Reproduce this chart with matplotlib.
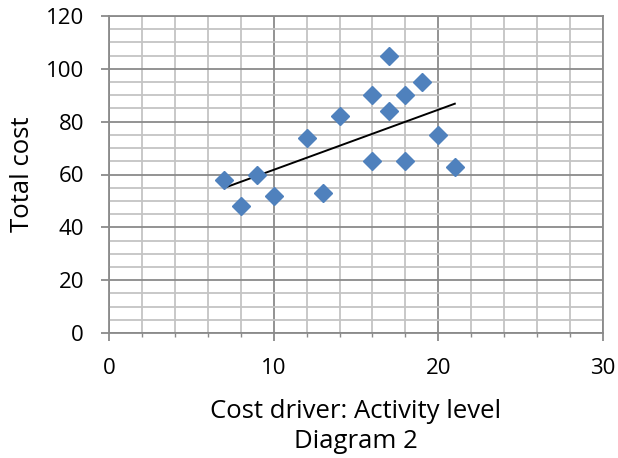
import numpy as np
import matplotlib.pyplot as plt
from matplotlib.ticker import MultipleLocator

# activity level vs total cost
activity = [7, 8, 9, 10, 12, 13, 14, 16, 16, 17, 17, 18, 18, 19, 20, 21]
total_cost = [58, 48, 60, 52, 74, 53, 82, 90, 65, 105, 84, 90, 65, 95, 75, 63]

plt.rcParams['font.family'] = ['Open Sans', 'DejaVu Sans']

fig = plt.figure(figsize=(6.18, 4.58), dpi=100)
ax = fig.add_axes([109/618, 1-333/458, (603-109)/618, (333-16)/458])

x = np.array(activity, dtype=float)
y = np.array(total_cost, dtype=float)
ax.plot(x, y, 'D', color='#4F81BD', ms=9.5, mec='#4F81BD', zorder=4, clip_on=False)

# linear trend line over the data range
m, c = np.polyfit(x, y, 1)
xt = np.array([x.min(), x.max()])
ax.plot(xt, m*xt + c, color='black', lw=1.4, zorder=3)

ax.set_xlim(0, 30)
ax.set_ylim(0, 120)
ax.xaxis.set_major_locator(MultipleLocator(10))
ax.xaxis.set_minor_locator(MultipleLocator(2))
ax.yaxis.set_major_locator(MultipleLocator(20))
ax.yaxis.set_minor_locator(MultipleLocator(5))

ax.grid(which='minor', color='#C4C4C4', lw=1.3, zorder=0)
ax.grid(which='major', color='#8A8A8A', lw=1.3, zorder=1)
ax.set_axisbelow(True)
for s in ax.spines.values():
    s.set_color('#8A8A8A')
    s.set_linewidth(1.3)

ax.tick_params(axis='both', which='major', color='#8A8A8A', width=1.3, length=6,
               labelsize=16)
ax.tick_params(axis='x', which='major', pad=12)
ax.tick_params(axis='y', which='major', pad=12)
ax.tick_params(axis='x', which='minor', color='#8A8A8A', width=1.0, length=3)
ax.tick_params(axis='y', which='minor', length=0)

ax.set_ylabel('Total cost', fontsize=18.5, va='center')
ax.yaxis.set_label_coords(-0.176, 0.5)
ax.set_xlabel('Cost driver: Activity level\nDiagram 2', fontsize=18.5,
              va='center', linespacing=1.3)
ax.xaxis.set_label_coords(0.5, -0.295)

fig.savefig('out.png', dpi=100)
